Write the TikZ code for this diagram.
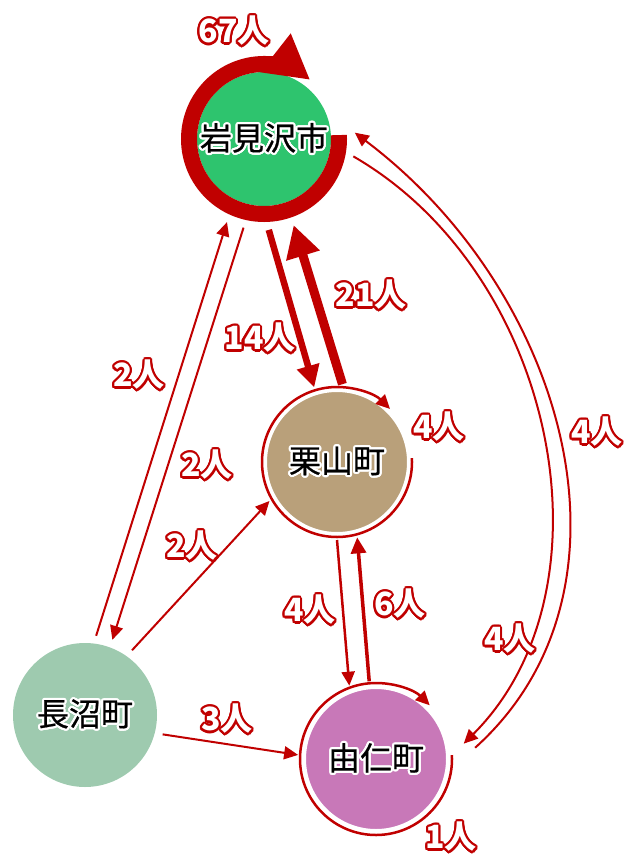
\documentclass[tikz,border=0pt]{standalone}
\usepackage{fontspec}
\setmainfont{Noto Sans CJK JP}
\newfontfamily\townfont[FakeBold=0.6]{Noto Sans CJK JP}
\usepackage{contour}
\contourlength{2.2pt}
\usepackage{tikz}
\usetikzlibrary{arrows.meta}
\definecolor{flowRed}{HTML}{C00000}
\definecolor{cityGreen}{HTML}{2EC46E}
\definecolor{kuriTan}{HTML}{B9A07A}
\definecolor{yuniPink}{HTML}{C878B8}
\definecolor{nagaGreen}{HTML}{9ECAAF}

\begin{document}
\begin{tikzpicture}[x=1pt, y=1pt,
    townNode/.style={circle, inner sep=0pt, font=\townfont\fontsize{32}{38}\selectfont, text=black},
    cityNode/.style={townNode, fill=cityGreen, minimum size=134pt, outer sep=24pt},
    ringNode/.style={townNode, draw=white, line width=4pt, minimum size=144pt, outer sep=6pt},
    flowThin/.style={-{Triangle[length=14pt, width=13pt]}, flowRed, line width=2pt},
    flowMid/.style={-{Triangle[length=16pt, width=15pt]}, flowRed, line width=3.5pt},
    flowBold/.style={-{Triangle[length=22pt, width=22pt]}, flowRed, line width=6.5pt},
    flowHeavy/.style={-{Triangle[length=32pt, width=33pt]}, flowRed, line width=9pt},
    selfThin/.style={-{Triangle[length=14pt, width=13pt]}, flowRed, line width=2.5pt},
    selfThick/.style={-{Triangle[length=44pt, width=46pt]}, flowRed, line width=16pt},
    countLabel/.style={font=\bfseries\fontsize{32}{38}\selectfont, text=white}
]
    \useasboundingbox (0,0) rectangle (624,-856);

    % Towns
    \node[cityNode] (iwami) at (264,-139) {\contour{white}{岩見沢市}};
    \node[ringNode, fill=kuriTan] (kuri) at (337,-462) {\contour{white}{栗山町}};
    \node[ringNode, fill=yuniPink] (yuni) at (376,-759) {\contour{white}{由仁町}};
    \node[townNode, fill=nagaGreen, minimum size=144pt, outer sep=8pt] (naga) at (85,-715) {\contour{white}{長沼町}};

    % Staying in the same town
    \draw[selfThick] ([shift={(3:75)}]iwami.center) arc[start angle=3, end angle=-308, radius=75];
    \draw[selfThin] ([shift={(3:75)}]kuri.center) arc[start angle=3, end angle=-315, radius=75];
    \draw[selfThin] ([shift={(3:76)}]yuni.center) arc[start angle=3, end angle=-315, radius=76];

    % Moves between towns
    \draw[flowBold]  (iwami.-87.5) -- (kuri.107);
    \draw[flowHeavy] (kuri.86) -- (iwami.-71);
    \draw[flowThin]  (naga.82) -- (iwami.-114);
    \draw[flowThin]  (iwami.-103) -- (naga.70);
    \draw[flowThin]  (naga.54) -- (kuri.-150);
    \draw[flowThin]  (naga.-14) -- (yuni.177);
    \draw[flowThin, line width=2.5pt] (kuri.-90) -- (yuni.110);
    \draw[flowMid]   (yuni.95) -- (kuri.-75);
    \draw[flowThin, shorten >=14pt] (iwami.-11) to[out=-30, in=45, distance=234pt] (yuni.4);
    \draw[flowThin, shorten <=29pt] (yuni.-6) to[out=42, in=-37, distance=265pt] (iwami.4);

    % Counts
    \node[countLabel] (n67) at (234,-32)  {\contour{flowRed}{67人}};
    \node[countLabel] (n21) at (371,-296) {\contour{flowRed}{21人}};
    \node[countLabel] (n14) at (260,-339) {\contour{flowRed}{14人}};
    \node[countLabel] (n2a) at (139,-376) {\contour{flowRed}{2人}};
    \node[countLabel] (n2b) at (207,-466) {\contour{flowRed}{2人}};
    \node[countLabel] (n2c) at (192,-547) {\contour{flowRed}{2人}};
    \node[countLabel] (n3)  at (227,-720) {\contour{flowRed}{3人}};
    \node[countLabel] (n4a) at (310,-611) {\contour{flowRed}{4人}};
    \node[countLabel] (n6)  at (400,-605) {\contour{flowRed}{6人}};
    \node[countLabel] (n4b) at (439,-428) {\contour{flowRed}{4人}};
    \node[countLabel] (n4c) at (597,-433) {\contour{flowRed}{4人}};
    \node[countLabel] (n4d) at (510,-640) {\contour{flowRed}{4人}};
    \node[countLabel] (n1)  at (451,-838) {\contour{flowRed}{1人}};
\end{tikzpicture}
\end{document}
